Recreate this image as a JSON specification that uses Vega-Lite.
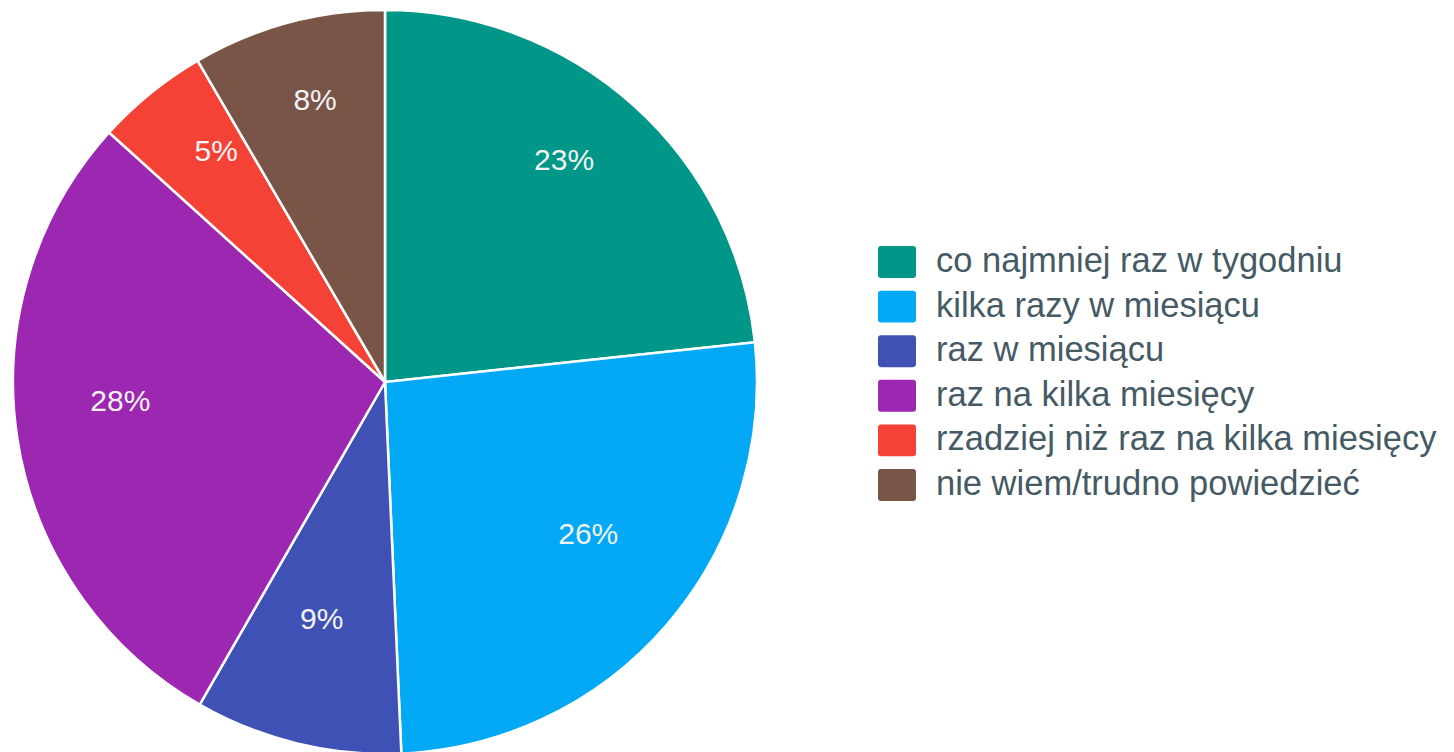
{
  "$schema": "https://vega.github.io/schema/vega-lite/v6.json",
  "width": 770,
  "height": 764,
  "padding": {"left": 0, "top": 0, "right": 684, "bottom": 0},
  "autosize": {"type": "none"},
  "background": "white",
  "view": {"stroke": null},
  "data": {"values": [
    {"cat": "co najmniej raz w tygodniu", "value": 23.3, "label": "23%", "order": 1},
    {"cat": "kilka razy w miesiącu", "value": 26.0, "label": "26%", "order": 2},
    {"cat": "raz w miesiącu", "value": 9.0, "label": "9%", "order": 3},
    {"cat": "raz na kilka miesięcy", "value": 28.4, "label": "28%", "order": 4},
    {"cat": "rzadziej niż raz na kilka miesięcy", "value": 4.9, "label": "5%", "order": 5},
    {"cat": "nie wiem/trudno powiedzieć", "value": 8.4, "label": "8%", "order": 6}
  ]},
  "encoding": {
    "theta": {"field": "value", "type": "quantitative", "stack": true},
    "order": {"field": "order", "type": "quantitative"},
    "color": {
      "field": "cat", "type": "nominal",
      "scale": {
        "domain": ["co najmniej raz w tygodniu", "kilka razy w miesiącu", "raz w miesiącu", "raz na kilka miesięcy", "rzadziej niż raz na kilka miesięcy", "nie wiem/trudno powiedzieć"],
        "range": ["#009688", "#03A9F4", "#3F51B5", "#9C27B0", "#F44336", "#795548"]
      },
      "legend": {
        "title": null,
        "orient": "none",
        "legendX": 878,
        "legendY": 243,
        "symbolType": "M-1,-0.68 Q-1,-0.84 -0.84,-0.84 L0.84,-0.84 Q1,-0.84 1,-0.68 L1,0.68 Q1,0.84 0.84,0.84 L-0.84,0.84 Q-1,0.84 -1,0.68 Z",
        "symbolSize": 1444,
        "symbolStrokeWidth": 0,
        "symbolOpacity": 1,
        "labelFont": "Liberation Sans",
        "labelFontSize": 34.5,
        "labelColor": "#455a64",
        "labelLimit": 700,
        "labelOffset": 20,
        "rowPadding": 8.6,
        "padding": 0
      }
    }
  },
  "layer": [
    {"mark": {"type": "arc", "outerRadius": 372, "stroke": "white", "strokeWidth": 2.5}},
    {"mark": {"type": "text", "radius": 268, "dy": -22, "font": "Liberation Sans", "fontSize": 30, "fill": "#f2f2f2", "baseline": "middle"},
     "encoding": {"text": {"field": "label"}}}
  ]
}
